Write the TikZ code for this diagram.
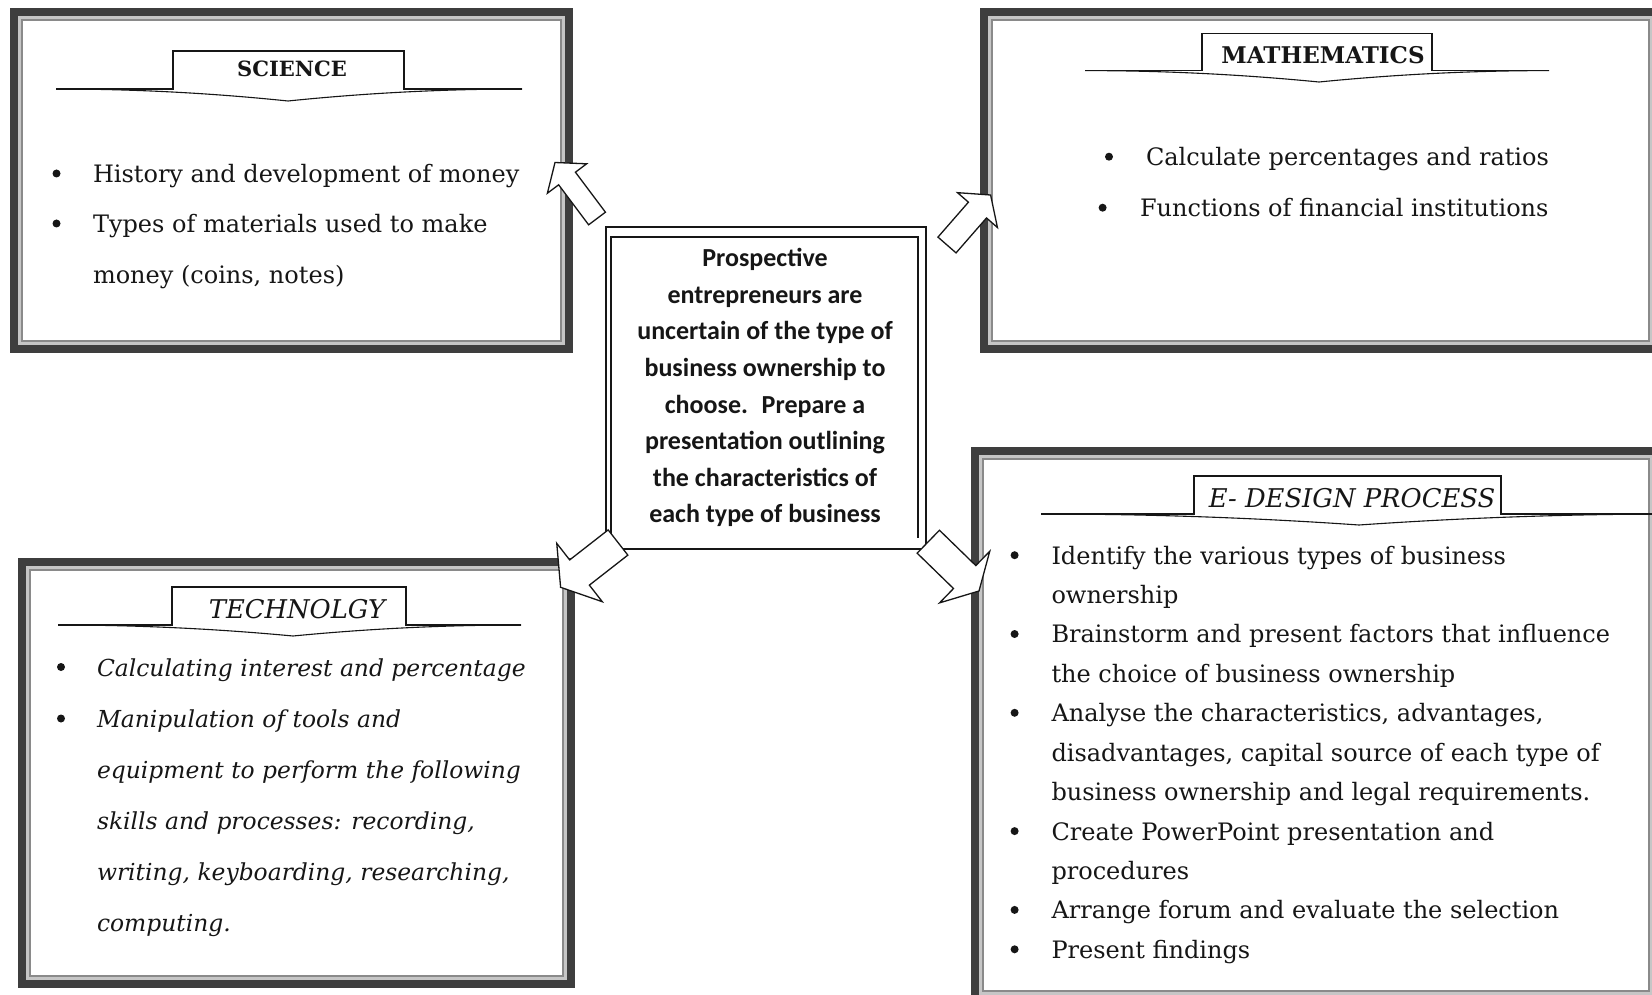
\documentclass[tikz,border=0pt]{standalone}
\usepackage{fontspec}
\setmainfont{DejaVu Serif}
\newfontfamily\taskfont{Carlito}
\usetikzlibrary{calc}

\definecolor{banddark}{HTML}{3E3E3E}
\definecolor{bandlight}{HTML}{C6C6C6}
\definecolor{bandmid}{HTML}{8A8A8A}
\definecolor{ink}{HTML}{161616}

% multi-line nodes are placed by the baseline of their last line
\tikzset{
  panel/.style={rectangle, inner sep=0pt, outer sep=0pt, anchor=north west},
  body/.style={anchor=base west, inner sep=0pt, outer sep=0pt, align=left, text=ink,
    font=\fontsize{24}{50.8}\selectfont},
  bodyit/.style={body, font=\itshape\fontsize{23.4}{51}\selectfont},
  bodytight/.style={body, font=\fontsize{24}{39.41}\selectfont},
  dot/.style={circle, fill=ink, inner sep=0pt, minimum size=8pt},
  headline/.style={anchor=base, inner sep=0pt, text=ink},
  arrowbody/.style={fill=white, draw=ink, line width=1.3pt, line join=miter},
  tasktext/.style={anchor=base, inner sep=0pt, align=center, text=ink,
    font=\taskfont\bfseries\fontsize{26}{36.6}\selectfont}
}

% thick dark band, light gap and thin inner rule of a panel
\newcommand\panelframe[1]{%
  \draw[banddark, line width=8pt] ([shift={(4,4)}]#1.north west) rectangle ([shift={(-4,-4)}]#1.south east);
  \draw[bandlight, line width=3pt] ([shift={(9.5,9.5)}]#1.north west) rectangle ([shift={(-9.5,-9.5)}]#1.south east);
  \draw[bandmid, line width=2pt] ([shift={(12,12)}]#1.north west) rectangle ([shift={(-12,-12)}]#1.south east);
}

% heading banner: #1 left end, #2 right end, #3 rule y, #4/#5 tab left/right, #6 tab top, #7/#8 point
\newcommand\banner[8]{%
  \fill[white] (#1,#3) -- (#4,#3) -- (#4,#6) -- (#5,#6) -- (#5,#3) -- (#2,#3)
    .. controls ({#2-(#2-#7)/3},#3) and ({#2-2*(#2-#7)/3},{#3+(#8-#3)/3}) .. (#7,#8)
    .. controls ({#1+2*(#7-#1)/3},{#3+(#8-#3)/3}) and ({#1+(#7-#1)/3},#3) .. (#1,#3) -- cycle;
  \draw[ink, line width=1.7pt, line join=miter] (#1,#3) -- (#4,#3) -- (#4,#6) -- (#5,#6) -- (#5,#3) -- (#2,#3);
  \draw[ink, line width=1.1pt] (#2,#3)
    .. controls ({#2-(#2-#7)/3},#3) and ({#2-2*(#2-#7)/3},{#3+(#8-#3)/3}) .. (#7,#8)
    .. controls ({#1+2*(#7-#1)/3},{#3+(#8-#3)/3}) and ({#1+(#7-#1)/3},#3) .. (#1,#3);
}

% block arrow from tail #1 to tip #2: shaft half width #3, head half width #4, head length #5
\newcommand\blockarrow[5]{%
  \coordinate (#1-hb) at ($(#2)!#5!(#1)$);
  \filldraw[arrowbody] ($(#1)!#3!90:(#2)$) -- ($(#1-hb)!#3!90:(#2)$) -- ($(#1-hb)!#4!90:(#2)$)
    -- (#2) -- ($(#1-hb)!#4!-90:(#2)$) -- ($(#1-hb)!#3!-90:(#2)$) -- ($(#1)!#3!-90:(#2)$) -- cycle;
}

\begin{document}
\begin{tikzpicture}[x=1pt, y=-1pt]
  \useasboundingbox (0,0) rectangle (1652,995);
  \fill[white] (0,0) rectangle (1652,995);

  % panels
  \node[panel, minimum width=563pt, minimum height=345pt] (sci) at (10,8) {};
  \node[panel, minimum width=681pt, minimum height=345pt] (math) at (980,8) {};
  \node[panel, minimum width=557pt, minimum height=430pt] (tech) at (18,558) {};
  \node[panel, minimum width=690pt, minimum height=556pt] (edp) at (971,447) {};
  \panelframe{sci}
  \panelframe{math}
  \panelframe{tech}
  \panelframe{edp}

  % headings
  \banner{56}{522}{89}{173}{404}{51}{288}{101}
  \node[headline, font=\bfseries\fontsize{21}{24}\selectfont] (scititle) at (292,77) {SCIENCE};
  \banner{1085}{1549}{70.6}{1202}{1432}{33.5}{1319}{82}
  \node[headline, font=\bfseries\fontsize{23}{26}\selectfont] (mathtitle) at (1323,64) {MATHEMATICS};
  \banner{58}{521}{625}{172}{406}{587}{293}{636}
  \node[headline, font=\itshape\fontsize{25.8}{28}\selectfont] (techtitle) at (297,618) {TECHNOLGY};
  \banner{1041}{1677}{514}{1194}{1501}{476}{1359}{525}
  \node[headline, font=\itshape\fontsize{25.8}{28}\selectfont] (edptitle) at (1352,507) {E- DESIGN PROCESS};

  % science items
  \node[dot] (scib1) at (56.5,173.5) {};
  \node[body] (scit1) at (93,182.5) {History and development of money};
  \node[dot] (scib2) at (56.5,223.5) {};
  \node[body] (scit2) at (93,283.3) {Types of materials used to make\\money (coins, notes)};

  % mathematics items
  \node[dot] (mathb1) at (1109,156.7) {};
  \node[body] (matht1) at (1146,165.7) {Calculate percentages and ratios};
  \node[dot] (mathb2) at (1102.6,207.7) {};
  \node[body] (matht2) at (1140,216.7) {Functions of financial institutions};

  % technology items
  \node[dot] (techb1) at (61,667) {};
  \node[bodyit] (techt1) at (97,676) {Calculating interest and percentage};
  \node[dot] (techb2) at (61,718.5) {};
  \node[bodyit] (techt2) at (97,931.5) {Manipulation of tools and\\equipment to perform the following\\skills and processes: recording,\\writing, keyboarding, researching,\\computing.};

  % design process items
  \node[dot] (edpb1) at (1014.6,555.2) {};
  \node[bodytight] (edpt1) at (1051.5,603.6) {Identify the various types of business\\ownership};
  \node[dot] (edpb2) at (1014.6,634) {};
  \node[bodytight] (edpt2) at (1051.5,682.4) {Brainstorm and present factors that influence\\the choice of business ownership};
  \node[dot] (edpb3) at (1014.6,712.8) {};
  \node[bodytight] (edpt3) at (1051.5,800.6) {Analyse the characteristics, advantages,\\disadvantages, capital source of each type of\\business ownership and legal requirements.};
  \node[dot] (edpb4) at (1014.6,831.1) {};
  \node[bodytight] (edpt4) at (1051.5,879.5) {Create PowerPoint presentation and\\procedures};
  \node[dot] (edpb5) at (1014.6,909.9) {};
  \node[bodytight] (edpt5) at (1051.5,918.9) {Arrange forum and evaluate the selection};
  \node[dot] (edpb6) at (1014.6,949.3) {};
  \node[bodytight] (edpt6) at (1051.5,958.3) {Present findings};

  % central task
  \node[panel, draw=ink, line width=1.4pt, minimum width=320pt, minimum height=322pt, fill=white] (task) at (606,227) {};
  \draw[ink, line width=1.3pt] ([shift={(5,309)}]task.north west) -- ([shift={(5,10)}]task.north west)
    -- ([shift={(-8,10)}]task.north east) -- ([shift={(-8,311)}]task.north east);
  \node[tasktext] (tasklabel) at (765,522.9) {Prospective\\entrepreneurs are\\uncertain of the type of\\business ownership to\\choose.~ Prepare a\\presentation outlining\\the characteristics of\\each type of business};

  % arrows from the task to each panel
  \coordinate (toscience) at (597,218.5);
  \coordinate (sciencetip) at (555,162.5);
  \coordinate (tomaths) at (947,245);
  \coordinate (mathstip) at (990.6,195);
  \coordinate (totech) at (618,542.5);
  \coordinate (techtip) at (560.6,587.3);
  \coordinate (todesign) at (928.3,541.7);
  \coordinate (designtip) at (979,591);
  \blockarrow{toscience}{sciencetip}{10.5pt}{24.5pt}{20pt}
  \blockarrow{tomaths}{mathstip}{12pt}{26.5pt}{20pt}
  \blockarrow{totech}{techtip}{16pt}{37pt}{24pt}
  \blockarrow{todesign}{designtip}{16pt}{36pt}{20pt}
\end{tikzpicture}
\end{document}
